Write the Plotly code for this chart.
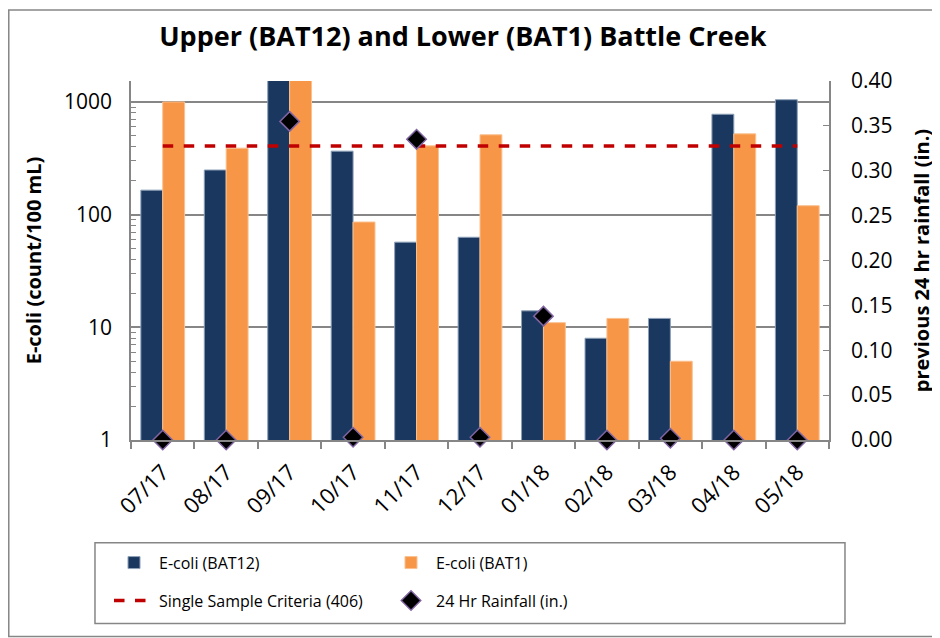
import plotly.graph_objects as go

months = ["07/17", "08/17", "09/17", "10/17", "11/17", "12/17",
          "01/18", "02/18", "03/18", "04/18", "05/18"]
ecoli_bat12 = [165, 249, 2420, 366, 57, 63, 14, 8, 12, 778, 1047]
ecoli_bat1 = [1000, 389, 2420, 86, 408, 511, 11, 12, 5, 521, 120]
criteria = [406] * len(months)
rainfall = [0.0, 0.0, 0.355, 0.003, 0.335, 0.003, 0.138, 0.0, 0.002, 0.0, 0.0]

FONT = "Open Sans"
NAVY = "#1A385F"
ORANGE = "#F79646"
GRAY = "#868686"

fig = go.Figure()
fig.add_trace(go.Bar(x=months, y=ecoli_bat12, name="E-coli (BAT12)", legend="legend",
                     marker=dict(color=NAVY, line=dict(color="#8DA0B8", width=1))))
fig.add_trace(go.Bar(x=months, y=ecoli_bat1, name="E-coli (BAT1)", legend="legend",
                     marker=dict(color=ORANGE, line=dict(color="#FAC090", width=1))))
fig.add_trace(go.Scatter(x=months, y=criteria, mode="lines", legend="legend2",
                         name="Single Sample Criteria (406)",
                         line=dict(color="#C00000", width=3.5, dash="dash")))
fig.add_trace(go.Scatter(x=months, y=rainfall, mode="markers", yaxis="y2",
                         legend="legend2", name="24 Hr Rainfall (in.)",
                         marker=dict(symbol="diamond", size=15, color="black",
                                     line=dict(color="#8064A2", width=1.5)),
                         cliponaxis=False))

minor_vals = [m * 10 ** d for d in range(0, 4) for m in range(2, 10)]

legend_common = dict(orientation="h", xanchor="left", yanchor="middle",
                     entrywidth=222, entrywidthmode="pixels",
                     borderwidth=0, bgcolor="rgba(0,0,0,0)",
                     font=dict(family=FONT, size=16, color="black"),
                     traceorder="normal", itemwidth=40)

fig.update_layout(
    width=932, height=630,
    margin=dict(l=123, r=111, t=73, b=198, autoexpand=False),
    paper_bgcolor="white", plot_bgcolor="white",
    font=dict(family=FONT, size=17, color="black"),
    title=dict(text="<b>Upper (BAT12) and Lower (BAT1) Battle Creek</b>",
               x=0.488, xanchor="center", y=0.954, yanchor="middle",
               font=dict(family=FONT, size=27, color="black")),
    barmode="group", bargap=0.31, bargroupgap=0,
    xaxis=dict(type="category", range=[-0.5, len(months) - 0.5], tickangle=-45,
               showline=True, linecolor=GRAY,
               linewidth=1.5, ticks="outside", ticklen=7, tickcolor=GRAY,
               tickwidth=1.5, tickson="boundaries", showgrid=False, automargin=False,
               ticklabelstandoff=9,
               tickfont=dict(family=FONT, size=22)),
    yaxis=dict(type="log", range=[0, 3.186], tickvals=[1, 10, 100, 1000],
               ticktext=["1", "10", "100", "1000"], showline=True,
               linecolor=GRAY, linewidth=1.5, ticks="inside", ticklen=6,
               tickcolor=GRAY, showgrid=True, gridcolor=GRAY, gridwidth=1.5,
               zeroline=False, automargin=False, ticklabelstandoff=13,
               minor=dict(tickvals=minor_vals, ticks="inside", ticklen=5,
                          tickcolor=GRAY, showgrid=False),
               title=dict(text="<b>E-coli (count/100 mL)</b>", standoff=17,
                          font=dict(family=FONT, size=20)),
               tickfont=dict(family=FONT, size=21)),
    yaxis2=dict(overlaying="y", side="right", range=[0, 0.4], dtick=0.05,
                tickformat=".2f", showline=True, linecolor=GRAY, linewidth=1.5,
                ticks="inside", ticklen=6, tickcolor=GRAY, showgrid=False,
                zeroline=False, automargin=False, ticklabelstandoff=16,
                title=dict(text="<b>previous 24 hr rainfall (in.)</b>", standoff=24,
                           font=dict(family=FONT, size=20)),
                tickfont=dict(family=FONT, size=21)),
    legend=dict(x=-0.0315, y=-0.3417, **legend_common),
    legend2=dict(x=-0.0315, y=-0.4472, **legend_common),
    showlegend=True,
)

fig.add_shape(type="rect", xref="paper", yref="paper",
              x0=-0.1751, x1=1.18, y0=-0.5472, y1=1.1979,
              line=dict(color=GRAY, width=1.5), layer="below")
fig.add_shape(type="rect", xref="paper", yref="paper",
              x0=-0.0516, x1=1.0229, y0=-0.5111, y1=-0.2861,
              line=dict(color=GRAY, width=1.5), layer="below")

fig.write_html("out.html")
